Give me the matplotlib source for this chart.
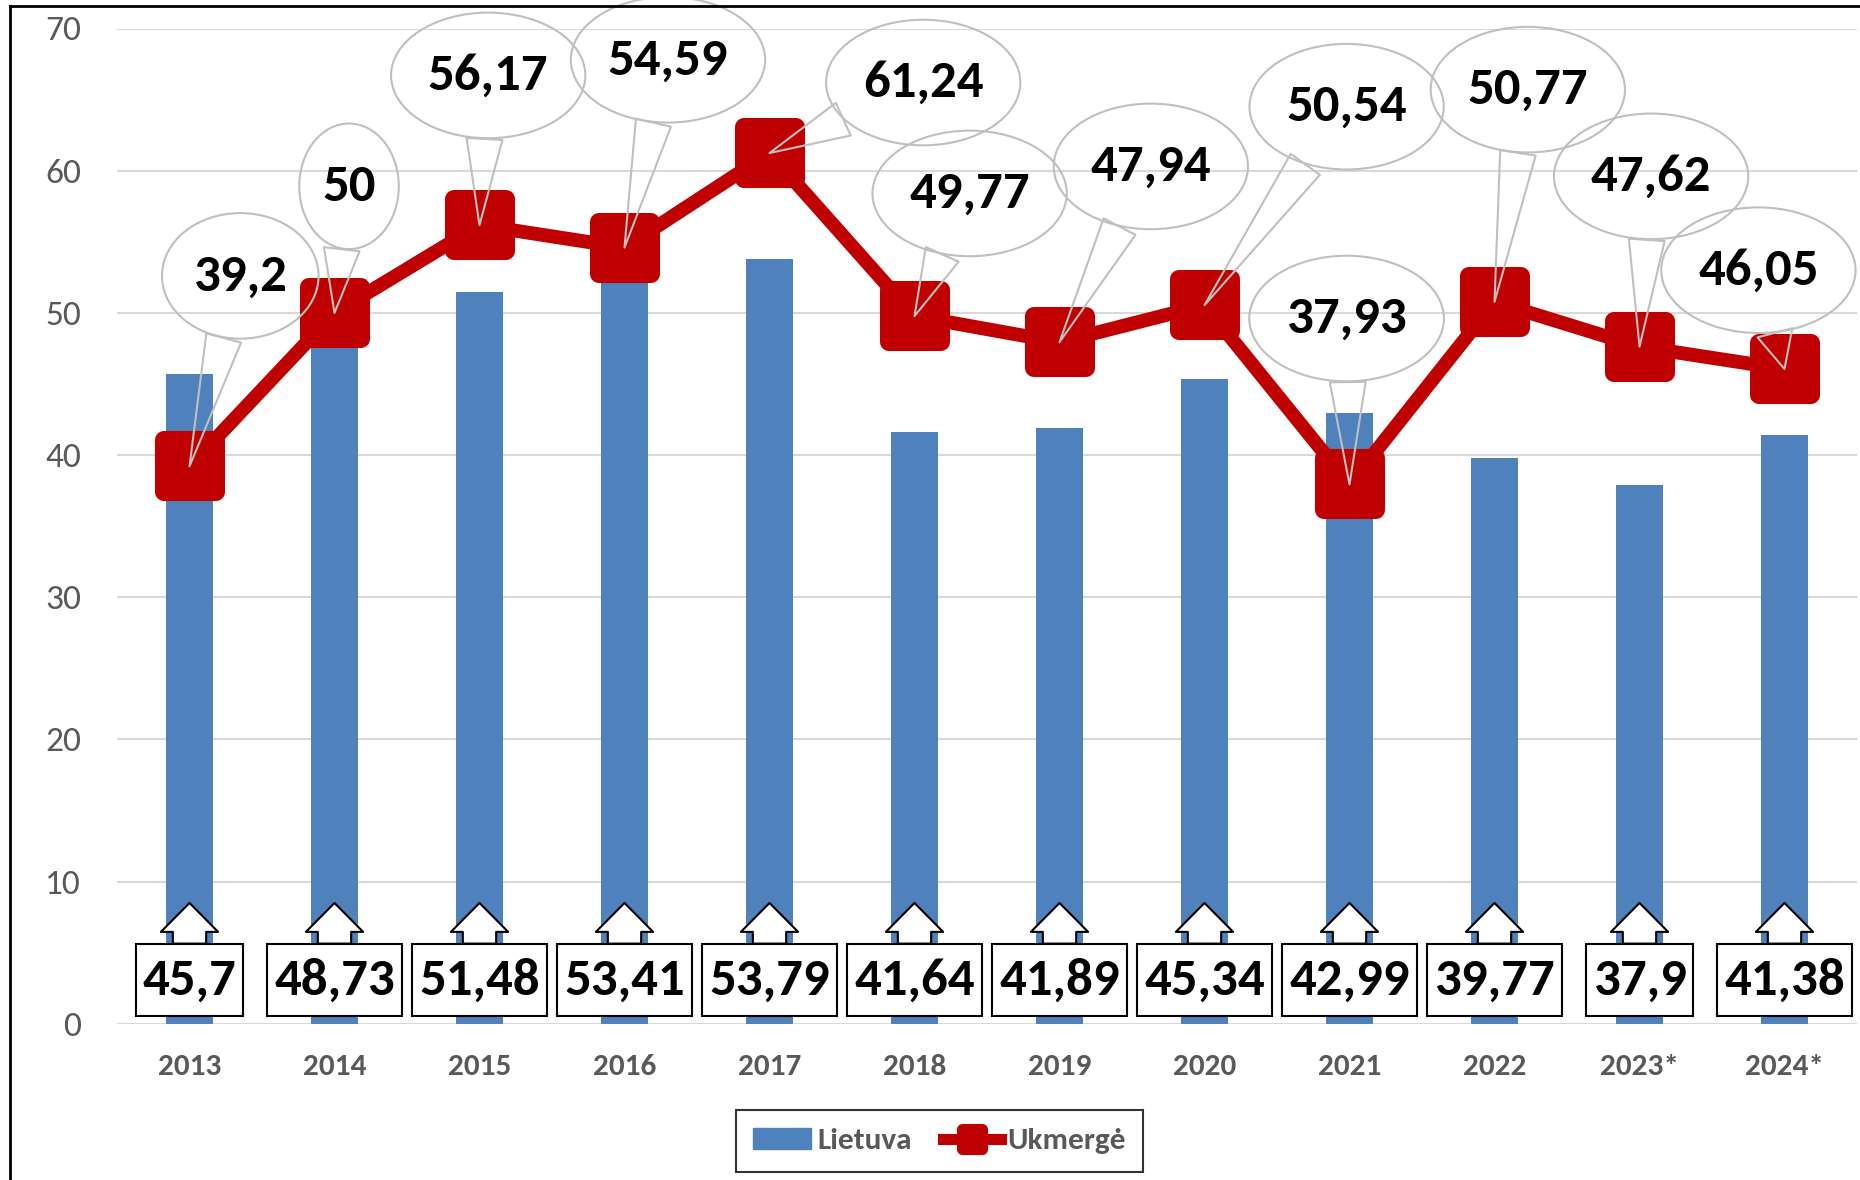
import matplotlib
matplotlib.use("Agg")
import numpy as np
import matplotlib.pyplot as plt
from matplotlib.lines import Line2D
from matplotlib.patches import Patch
from matplotlib.markers import MarkerStyle
from matplotlib.path import Path

# ---- data ----
years = ["2013", "2014", "2015", "2016", "2017", "2018", "2019", "2020", "2021", "2022", "2023*", "2024*"]
lietuva = [45.7, 48.73, 51.48, 53.41, 53.79, 41.64, 41.89, 45.34, 42.99, 39.77, 37.9, 41.38]
ukmerge = [39.2, 50, 56.17, 54.59, 61.24, 49.77, 47.94, 50.54, 37.93, 50.77, 47.62, 46.05]
lietuva_labels = ["45,7", "48,73", "51,48", "53,41", "53,79", "41,64", "41,89", "45,34", "42,99", "39,77", "37,9", "41,38"]
ukmerge_labels = ["39,2", "50", "56,17", "54,59", "61,24", "49,77", "47,94", "50,54", "37,93", "50,77", "47,62", "46,05"]

# callout text placement (x offset in category units, y in data units)
callout_dx = [0.35, 0.10, 0.06, 0.30, 1.06, 0.38, 0.63, 0.98, -0.02, 0.23, 0.08, -0.18]
callout_y = [52.6, 58.9, 66.7, 67.8, 66.2, 58.4, 60.3, 64.5, 49.6, 65.7, 59.6, 53.0]

CAL = ["Carlito", "DejaVu Sans"]
BLUE = "#4F81BD"
RED = "#C00000"
GRAY = "#595959"
LABEL_SIZE = 38


def label_box(x0, y0, width, height, mutation_size):
    padx = 0.13 * mutation_size
    pady = 0.25 * mutation_size
    x0, y0 = x0 - padx, y0 - pady
    x1, y1 = x0 + width + 2 * padx, y0 + height + 2 * pady
    return Path([(x0, y0), (x1, y0), (x1, y1), (x0, y1), (x0, y0)],
                [Path.MOVETO, Path.LINETO, Path.LINETO, Path.LINETO, Path.CLOSEPOLY])


def callout_ellipse(x0, y0, width, height, mutation_size):
    padx = 0.16 * mutation_size
    pady = 0.415 * mutation_size
    cx, cy = x0 + width / 2, y0 + height / 2
    rx = (width / 2 + padx) * np.sqrt(2)
    ry = (height / 2 + pady) * np.sqrt(2)
    ell = Path.unit_circle()
    verts = ell.vertices * [rx, ry] + [cx, cy]
    return Path(verts, ell.codes)


fig = plt.figure(figsize=(18.6, 11.8), dpi=100)
ax = fig.add_axes([117/1860, (1180-1023.7)/1180, (1857-117)/1860, (1023.7-28.5)/1180])

x = list(range(len(years)))
ax.bar(x, lietuva, width=0.32, color=BLUE, zorder=2)
ms = MarkerStyle("s", joinstyle="round")
ax.plot(x, ukmerge, color=RED, lw=10, marker=ms, ms=38, mew=13, mec=RED, mfc=RED,
        solid_joinstyle="round", zorder=3)

ax.set_xlim(-0.5, len(years) - 0.5)
ax.set_ylim(0, 70)
ax.set_yticks(range(0, 71, 10))
ax.set_xticks(x)
ax.set_xticklabels(years)
ax.grid(axis="y", color="#D9D9D9", lw=1.5, zorder=0)
ax.set_axisbelow(True)
for s in ax.spines.values():
    s.set_visible(False)
ax.tick_params(axis="y", length=0, pad=26, labelsize=25.5, labelcolor=GRAY)
ax.tick_params(axis="x", length=0, pad=22, labelsize=22.5, labelcolor=GRAY)
for t in ax.get_yticklabels():
    t.set_family(CAL)
for t in ax.get_xticklabels():
    t.set_family(CAL)
    t.set_fontweight("bold")

# Ukmerge callouts (ellipses with wedge pointers)
for i in x:
    ax.annotate(ukmerge_labels[i], xy=(i, ukmerge[i]), xytext=(i + callout_dx[i], callout_y[i]),
                textcoords="data", ha="center", va="center", fontsize=LABEL_SIZE, fontweight="bold",
                family=CAL, color="black", zorder=6,
                bbox=dict(boxstyle=callout_ellipse, fc="none", ec="#BFBFBF", lw=1.5),
                arrowprops=dict(arrowstyle="wedge,tail_width=0.68,shrink_factor=0.5",
                                fc="none", ec="#BFBFBF", lw=1.5, shrinkA=0, shrinkB=0))

# Lietuva callouts (boxes with up arrows)
for i in x:
    ax.annotate(lietuva_labels[i], xy=(i, 8.49), xytext=(i, 3.07), textcoords="data",
                ha="center", va="center", fontsize=LABEL_SIZE, fontweight="bold", family=CAL,
                color="black", zorder=7,
                bbox=dict(boxstyle=label_box, fc="white", ec="black", lw=1.5),
                arrowprops=dict(arrowstyle="simple,head_length=0.52,head_width=1.03,tail_width=0.6",
                                fc="white", ec="black", lw=1.5, shrinkA=0, shrinkB=0,
                                mutation_scale=40))

# legend
handles = [Patch(facecolor=BLUE, edgecolor=BLUE),
           Line2D([0], [0], color=RED, lw=8, marker=MarkerStyle("s", joinstyle="round"),
                  ms=14, mew=8, mec=RED, mfc=RED)]
leg = fig.legend(handles, ["Lietuva", "Ukmergė"], loc="center", bbox_to_anchor=(0.505, 0.033),
                 ncol=2, frameon=True, fancybox=False, handlelength=1.85, handletextpad=0.2,
                 columnspacing=1.0, borderpad=0.55,
                 prop=dict(family=CAL, weight="bold", size=22.5))
leg.get_frame().set_edgecolor("black")
leg.get_frame().set_linewidth(1.5)
for t in leg.get_texts():
    t.set_color(GRAY)

# outer border (top and left)
fig.add_artist(Line2D([10/1860, 1.0], [1 - 6/1180, 1 - 6/1180], color="black", lw=2,
                      transform=fig.transFigure))
fig.add_artist(Line2D([10/1860, 10/1860], [0, 1 - 6/1180], color="black", lw=2,
                      transform=fig.transFigure))

fig.savefig("out.png", dpi=100)
